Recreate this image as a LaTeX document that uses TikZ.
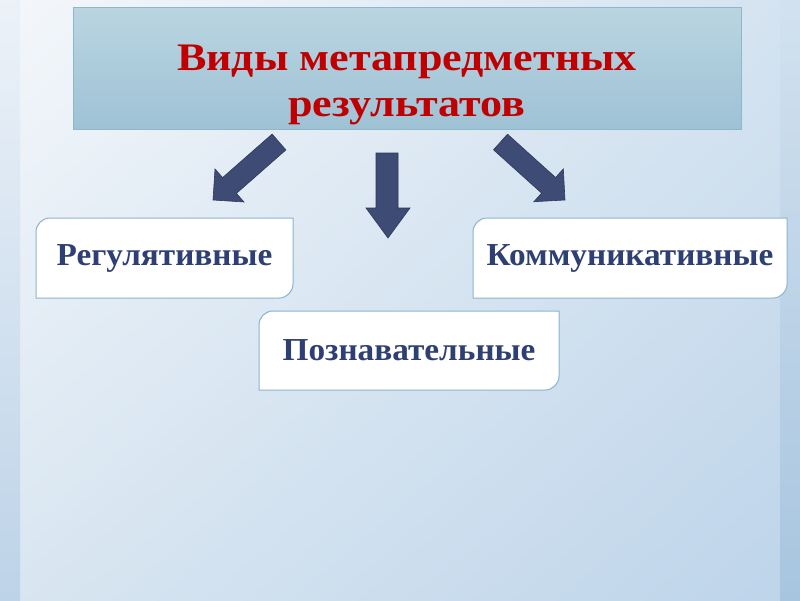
\documentclass[tikz,border=0pt]{standalone}
\usepackage{fontspec}
\usepackage{graphicx}
\setmainfont{Liberation Serif}
\usetikzlibrary{shadings}
\definecolor{bgTL}{HTML}{F4F7FB}
\definecolor{bgTR}{HTML}{D4E3F0}
\definecolor{bgBL}{HTML}{D9E6F1}
\definecolor{bgBR}{HTML}{BDD4EA}
\definecolor{stripL}{HTML}{BDD3E8}
\definecolor{stripR}{HTML}{A8C5DF}
\definecolor{titleTop}{HTML}{BAD5E1}
\definecolor{titleBot}{HTML}{9EC2D5}
\definecolor{titleLine}{HTML}{8DB7CB}
\definecolor{titleText}{HTML}{C00000}
\definecolor{lblText}{HTML}{2E3F74}
\definecolor{boxLine}{HTML}{8CB4CC}
\definecolor{arrowFill}{HTML}{3E4B75}
\definecolor{arrowLine}{HTML}{2D375A}
\newcommand{\wideline}[1]{\scalebox{1.13}[1]{#1}}
\tikzset{
  titletext/.style={font=\bfseries\fontsize{39}{46}\selectfont, text=titleText, align=center},
  lbl/.style={font=\bfseries\fontsize{32}{36}\selectfont, text=lblText},
  labelbox/.style={fill=white, draw=boxLine, line width=1pt},
  blockarrow/.style={fill=arrowFill, draw=arrowLine, line width=0.6pt, line join=miter},
}
\begin{document}
\begin{tikzpicture}[x=1pt,y=-1pt]
\useasboundingbox (0,0) rectangle (800,600);
% background
\shade[upper left=bgTL, upper right=bgTR, lower left=bgBL, lower right=bgBR] (0,0) rectangle (800,600);
\shade[top color=bgTL!85!stripL, bottom color=stripL] (0,0) rectangle (20,600);
\shade[top color=bgTR!95!stripR, bottom color=stripR] (780,0) rectangle (800,600);
% title box
\shade[top color=titleTop, bottom color=titleBot] (73,7) rectangle (741,129);
\draw[titleLine, line width=1pt] (73,7) rectangle (741,129);
\node[titletext] (title) at (407,84.5) {\wideline{Виды метапредметных}\\\wideline{результатов}};
% label boxes (rounded top-left and bottom-right corners)
\draw[labelbox] (36,298) -- (36,232) .. controls (36,224.3) and (42.3,218) .. (50,218) -- (293,218) -- (293,284) .. controls (293,291.7) and (286.7,298) .. (279,298) -- cycle;
\node[lbl] (reg) at (164.5,258) {\scalebox{1.04}[1]{Регулятивные}};
\draw[labelbox] (473,298) -- (473,232) .. controls (473,224.3) and (479.3,218) .. (487,218) -- (787,218) -- (787,284) .. controls (787,291.7) and (780.7,298) .. (773,298) -- cycle;
\node[lbl] (kom) at (630,258) {\scalebox{1.04}[1]{Коммуникативные}};
\draw[labelbox] (259,390) -- (259,325) .. controls (259,317.3) and (265.3,311) .. (273,311) -- (559,311) -- (559,376) .. controls (559,383.7) and (552.7,390) .. (545,390) -- cycle;
\node[lbl] (poz) at (409,350.5) {\scalebox{1.04}[1]{Познавательные}};
% arrows
\draw[blockarrow] (272.1,134.1) -- (285.9,149.9) -- (236.4,193.4) -- (244,202) -- (213,200) -- (215,169) -- (222.6,177.6) -- cycle;
\draw[blockarrow] (376,153) -- (398,153) -- (398,208) -- (410,208) -- (388,238) -- (366,208) -- (376,208) -- cycle;
\draw[blockarrow] (507.5,134.2) -- (493.5,149.8) -- (541.6,193.1) -- (533.9,201.7) -- (565,200) -- (563.3,168.9) -- (555.6,177.5) -- cycle;
\end{tikzpicture}
\end{document}
